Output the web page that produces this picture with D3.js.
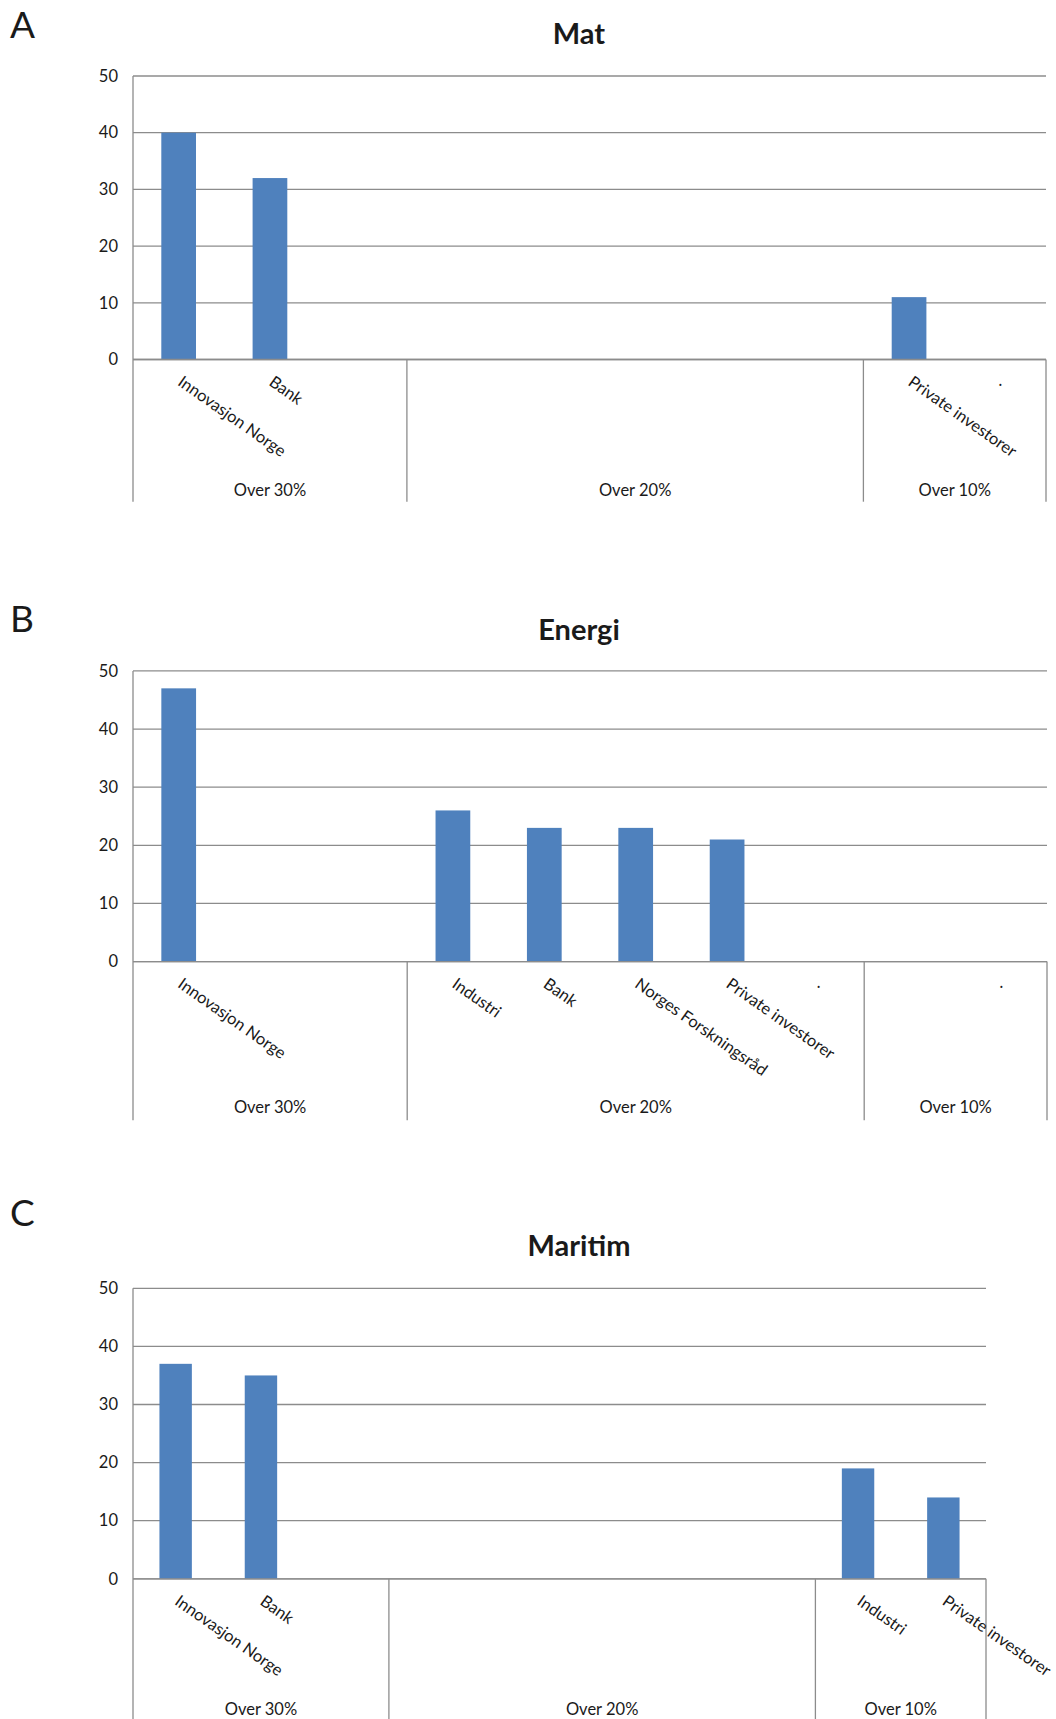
<!DOCTYPE html>
<html>
<head>
<meta charset="utf-8">
<script src="https://cdn.jsdelivr.net/npm/d3@7"></script>
<style>
  body { margin: 0; background: #fff; }
  text { font-family: Lato, "Noto Sans", sans-serif; fill: #1a1a1a; }
</style>
</head>
<body>
<svg id="chart" width="1056" height="1719"></svg>
<script>
// Grouping of the ten category slots on the x axis
const groupNames = ["Over 30%", "Over 20%", "Over 10%"];
const groupSizes = [3, 5, 2];
const yTicks = [0, 10, 20, 30, 40, 50];

const matLabels = ["Innovasjon Norge", "Bank", "", "", "", "", "", "", "Private investorer", "."];
const matValues = [40, 32, null, null, null, null, null, null, 11, null];

const energiLabels = ["Innovasjon Norge", "", "", "Industri", "Bank", "Norges Forskningsråd", "Private investorer", ".", "", "."];
const energiValues = [47, null, null, 26, 23, 23, 21, null, null, null];

const maritimLabels = ["Innovasjon Norge", "Bank", "", "", "", "", "", "", "Industri", "Private investorer"];
const maritimValues = [37, 35, null, null, null, null, null, null, 19, 14];

const svg = d3.select("#chart");
const gridColor = "#8c8c8c";
const barColor = "#4f81bd";

function drawChart(o) {
  const g = svg.append("g");
  const left = 133;

  const x = d3
    .scaleBand()
    .domain(d3.range(o.labels.length))
    .range([left, o.right])
    .paddingInner(0.62)
    .paddingOuter(0.31);
  const step = x.step();
  const y = d3.scaleLinear().domain([0, 50]).range([o.axis, o.top]);

  // panel letter and title
  g.append("text")
    .attr("x", 10)
    .attr("y", o.letterY)
    .attr("font-size", 37)
    .text(o.letter);
  g.append("text")
    .attr("x", 579)
    .attr("y", o.titleY)
    .attr("text-anchor", "middle")
    .attr("font-size", 29)
    .attr("font-weight", "bold")
    .text(o.title);

  // horizontal gridlines
  g.append("g")
    .selectAll("line")
    .data(yTicks)
    .join("line")
    .attr("x1", left)
    .attr("x2", o.right)
    .attr("y1", (d) => y(d))
    .attr("y2", (d) => y(d))
    .attr("stroke", gridColor)
    .attr("stroke-width", 1.3);

  // y axis labels
  const yAxis = g
    .append("g")
    .attr("transform", `translate(${left},0)`)
    .call(d3.axisLeft(y).tickValues(yTicks).tickSize(0).tickPadding(15));
  yAxis.select(".domain").remove();
  yAxis
    .selectAll("text")
    .attr("font-size", 16.5)
    .attr("font-family", "Lato, sans-serif")
    .attr("fill", "#1a1a1a");

  // left axis line down through the category box
  g.append("line")
    .attr("x1", left)
    .attr("x2", left)
    .attr("y1", o.top)
    .attr("y2", o.bottom)
    .attr("stroke", gridColor)
    .attr("stroke-width", 1.3);

  // group separators
  const seps = Array.from(d3.cumsum(groupSizes));
  g.append("g")
    .selectAll("line")
    .data(seps)
    .join("line")
    .attr("x1", (d) => left + d * step)
    .attr("x2", (d) => left + d * step)
    .attr("y1", o.axis)
    .attr("y2", o.bottom)
    .attr("stroke", gridColor)
    .attr("stroke-width", 1.3);

  // bars
  const bars = o.values.map((v, i) => ({ i, v })).filter((d) => d.v != null);
  g.append("g")
    .selectAll("rect")
    .data(bars)
    .join("rect")
    .attr("x", (d) => x(d.i))
    .attr("width", x.bandwidth())
    .attr("y", (d) => y(d.v))
    .attr("height", (d) => y(0) - y(d.v))
    .attr("fill", barColor);

  // redraw the zero line on top of the bars
  g.append("line")
    .attr("x1", left)
    .attr("x2", o.right)
    .attr("y1", y(0))
    .attr("y2", y(0))
    .attr("stroke", gridColor)
    .attr("stroke-width", 1.3);

  // rotated category labels
  g.append("g")
    .selectAll("text")
    .data(o.labels.map((t, i) => ({ t, i })).filter((d) => d.t !== ""))
    .join("text")
    .attr("transform", (d) => {
      const cx = x(d.i) + x.bandwidth() / 2;
      return `translate(${cx - 2},${o.axis + 25}) rotate(35)`;
    })
    .attr("font-size", 16.5)
    .text((d) => d.t);

  // group labels
  const starts = [0, ...seps.slice(0, -1)];
  g.append("g")
    .selectAll("text")
    .data(groupNames)
    .join("text")
    .attr("x", (d, i) => left + ((starts[i] + seps[i]) / 2) * step)
    .attr("y", o.groupY + 6)
    .attr("text-anchor", "middle")
    .attr("font-size", 16.5)
    .text((d) => d);
}

drawChart({
  letter: "A", title: "Mat", labels: matLabels, values: matValues,
  letterY: 38, titleY: 43.5, top: 76, axis: 359.5, bottom: 501.7, groupY: 490, right: 1046
});
drawChart({
  letter: "B", title: "Energi", labels: energiLabels, values: energiValues,
  letterY: 632, titleY: 640, top: 670.9, axis: 961.6, bottom: 1120.3, groupY: 1107.2, right: 1047
});
drawChart({
  letter: "C", title: "Maritim", labels: maritimLabels, values: maritimValues,
  letterY: 1226.4, titleY: 1255.5, top: 1288.3, axis: 1578.8, bottom: 1719, groupY: 1709.4, right: 986
});
</script>
</body>
</html>
